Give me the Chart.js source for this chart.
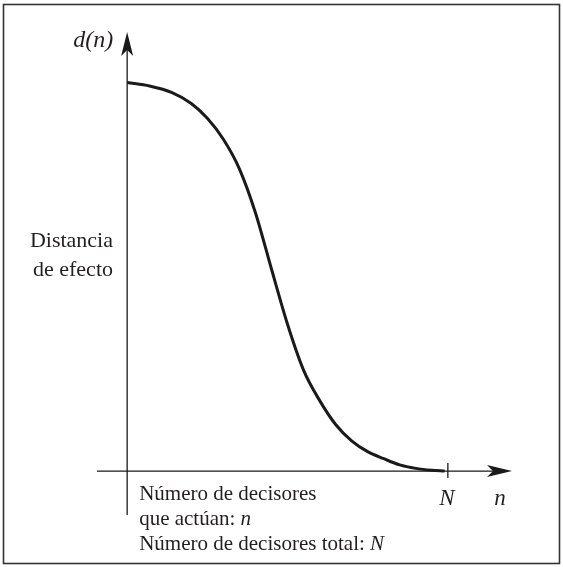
<!DOCTYPE html>
<html>
<head>
<meta charset="utf-8">
<script src="https://cdn.jsdelivr.net/npm/chart.js@4.4.0/dist/chart.umd.min.js"></script>
<style>
  body { margin: 0; background: #fff; }
  canvas { display: block; }
</style>
</head>
<body>
<canvas id="myChart" width="563" height="567"></canvas>
<script>
// n (number of deciders acting), with N = 10 at the tick
const nValues = [0, 0.7, 1.4, 2.0, 2.5, 3.0, 3.5, 4.0, 4.5, 5.0, 5.5, 6.0, 6.5, 7.0, 7.5, 8.0, 8.5, 9.0, 9.5, 9.9];
// d(n), effect distance
const dValues = [10, 9.91, 9.74, 9.46, 9.08, 8.54, 7.78, 6.65, 5.2, 3.78, 2.6, 1.82, 1.2, 0.78, 0.5, 0.32, 0.16, 0.07, 0.02, 0];
const totalN = 10;

const serif = '"Liberation Serif", "DejaVu Serif", serif';

const points = nValues.map((n, i) => ({ x: n, y: dValues[i] }));

const axesPlugin = {
    id: 'axesPlugin',
    beforeDatasetsDraw(chart) {
        const c = chart.ctx;
        const xs = chart.scales.x, ys = chart.scales.y;
        const x0 = xs.getPixelForValue(0), y0 = ys.getPixelForValue(0);
        const left = chart.chartArea.left, right = chart.chartArea.right;
        const top = chart.chartArea.top, bottom = chart.chartArea.bottom;

        c.save();
        // frame
        c.strokeStyle = '#333';
        c.lineWidth = 1.6;
        c.strokeRect(3.5, 4.5, 556, 559);

        // axes
        c.strokeStyle = '#1a1a1a';
        c.lineWidth = 1.3;
        c.beginPath();
        c.moveTo(left, y0); c.lineTo(right - 10, y0);
        c.moveTo(x0, bottom); c.lineTo(x0, top + 10);
        c.stroke();

        // N tick
        const xN = xs.getPixelForValue(totalN);
        c.beginPath();
        c.moveTo(xN, y0 - 8); c.lineTo(xN, y0 + 7);
        c.stroke();

        // arrowheads
        c.fillStyle = '#1a1a1a';
        c.beginPath();
        c.moveTo(right, y0);
        c.lineTo(right - 25, y0 - 6);
        c.lineTo(right - 19, y0);
        c.lineTo(right - 25, y0 + 6);
        c.closePath();
        c.fill();
        c.beginPath();
        c.moveTo(x0, top);
        c.lineTo(x0 - 6, top + 24);
        c.lineTo(x0, top + 18);
        c.lineTo(x0 + 6, top + 24);
        c.closePath();
        c.fill();

        // labels
        c.fillStyle = '#231f20';
        c.textBaseline = 'alphabetic';
        c.font = 'italic 24px ' + serif;
        c.textAlign = 'right';
        c.fillText('d(n)', x0 - 14, 47);
        c.font = 'italic 23px ' + serif;
        c.textAlign = 'center';
        c.fillText('N', xN - 1, 505);
        c.fillText('n', right - 12, 505);

        c.font = '22px ' + serif;
        c.textAlign = 'right';
        c.fillText('Distancia', 113, 247);
        c.fillText('de efecto', 113, 276);

        c.font = '21px ' + serif;
        c.textAlign = 'left';
        const tx = x0 + 12;
        c.fillText('Número de decisores', tx, 500);
        c.fillText('que actúan: ', tx, 525);
        let w = c.measureText('que actúan: ').width;
        c.font = 'italic 21px ' + serif;
        c.fillText('n', tx + w, 525);
        c.font = '21px ' + serif;
        c.fillText('Número de decisores total: ', tx, 550);
        w = c.measureText('Número de decisores total: ').width;
        c.font = 'italic 21px ' + serif;
        c.fillText('N', tx + w, 550);
        c.restore();
    }
};

const ctx = document.getElementById('myChart').getContext('2d');
const myChart = new Chart(ctx, {
    type: 'line',
    data: {
        datasets: [{
            data: points,
            borderColor: '#1a1a1a',
            borderWidth: 3,
            pointRadius: 0,
            cubicInterpolationMode: 'monotone',
            fill: false
        }]
    },
    options: {
        responsive: false,
        animation: false,
        layout: { padding: { left: 97, right: 51, top: 32, bottom: 52 } },
        plugins: { legend: { display: false }, tooltip: { enabled: false } },
        scales: {
            x: { type: 'linear', min: -0.94, max: 12, display: false },
            y: { type: 'linear', min: -1.13, max: 11.3, display: false }
        }
    },
    plugins: [axesPlugin]
});
</script>
</body>
</html>
